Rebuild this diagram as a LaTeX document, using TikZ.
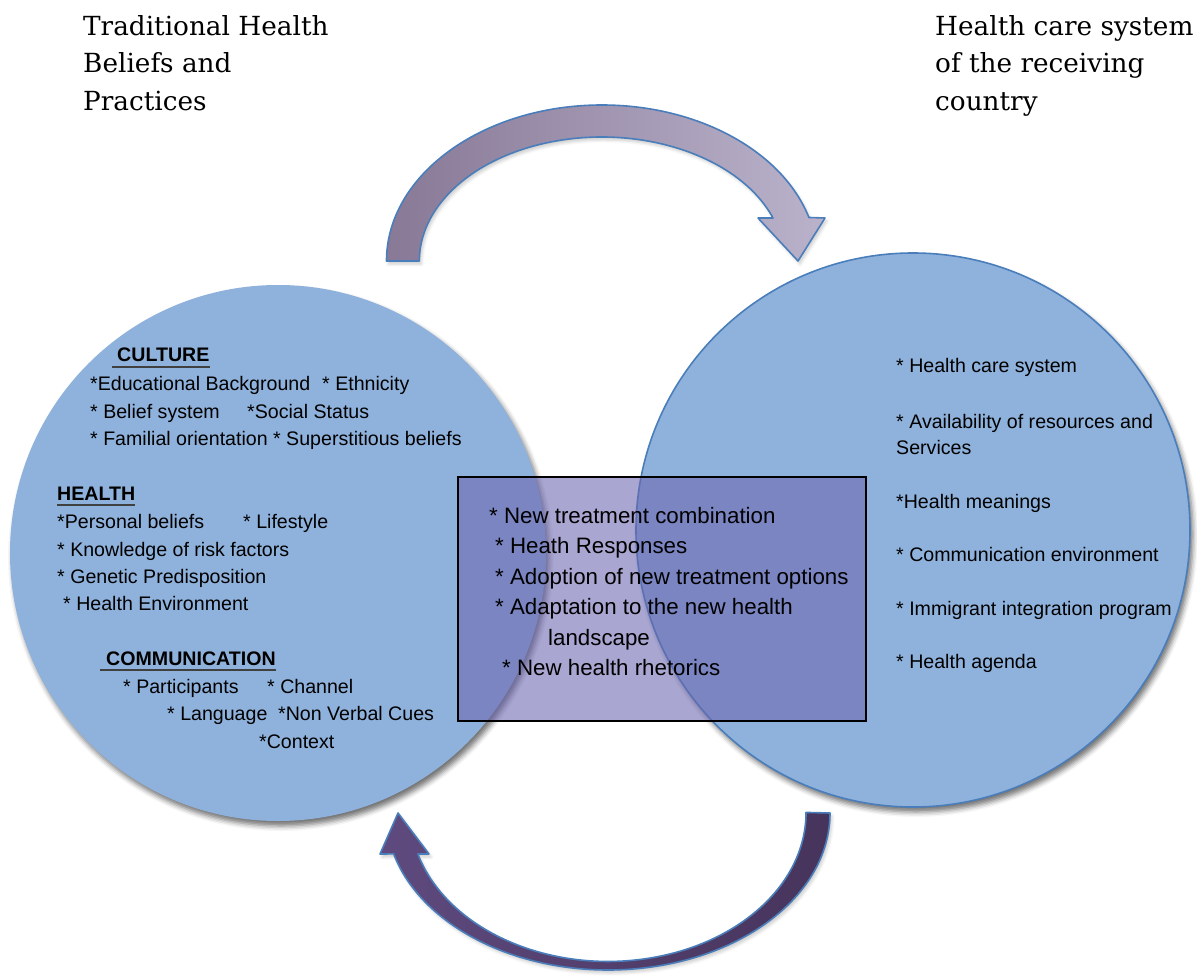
\documentclass[tikz,border=0pt]{standalone}
\usepackage{fontspec}
\setmainfont{Liberation Sans}
\newfontfamily\titlefont{DejaVu Serif}
\usetikzlibrary{shadows.blur}
\definecolor{cfill}{RGB}{143,178,220}
\definecolor{cline}{RGB}{74,126,187}
\definecolor{boxfill}{RGB}{107,102,176}
\definecolor{topL}{RGB}{136,121,150}
\definecolor{topR}{RGB}{186,178,203}
\definecolor{botL}{RGB}{94,74,126}
\definecolor{botR}{RGB}{70,52,92}
\begin{document}
\begin{tikzpicture}[x=1pt,y=-1pt,
  txt/.style={anchor=base west, inner sep=0pt, font=\fontsize{19.6}{24}\selectfont},
  boxtxt/.style={anchor=base west, inner sep=0pt, font=\fontsize{22.3}{28}\selectfont},
  head/.style={anchor=base west, inner sep=0pt, font=\fontsize{19.6}{24}\selectfont\bfseries},
  ttl/.style={anchor=base west, inner sep=0pt, font=\titlefont\fontsize{26.3}{32}\selectfont},
  uline/.style={line width=1.1pt, black!75},
  arrowband/.style={draw=cline, line width=1.6pt, line join=round},
  csh/.style={blur shadow={shadow xshift=3pt, shadow yshift=-5pt, shadow blur radius=5pt, shadow opacity=55}},
  ash/.style={blur shadow={shadow xshift=2pt, shadow yshift=-3pt, shadow blur radius=3pt, shadow opacity=20}}
]
\useasboundingbox (0,0) rectangle (1197,976);

% top curved arrow
\path[arrowband, ash, left color=topL, right color=topR]
  (386.5,261) arc[start angle=180, end angle=343.8, x radius=215.5, y radius=156]
  -- (825,218) -- (798,261) -- (758,218) -- (773,218)
  arc[start angle=339.7, end angle=180, x radius=182.5, y radius=124] -- cycle;

% bottom curved arrow
\path[arrowband, ash, left color=botL, right color=botR]
  (830,813) arc[start angle=0, end angle=164.9, x radius=222, y radius=157]
  -- (380,854) -- (398,813) -- (429,854) -- (417.9,854)
  arc[start angle=163.8, end angle=0, x radius=198, y radius=149] -- cycle;

% circles
\node (lc) [circle, csh, fill=cfill, minimum size=536pt, inner sep=0pt] at (278,553) {};
\node (rc) [circle, csh, fill=cfill, draw=cline, line width=1.6pt, minimum size=554pt, inner sep=0pt] at (913,530) {};

% central box
\node (box) [draw=black, line width=1.6pt, fill=boxfill, fill opacity=0.58, minimum width=408pt, minimum height=244pt, inner sep=0pt] at (662,599) {};

% titles
\node (t1) [ttl] at (83,36) {Traditional Health};
\node (t2) [ttl] at (83,73) {Beliefs and};
\node (t3) [ttl] at (83,111) {Practices};
\node (r1) [ttl] at (935,36) {Health care system};
\node (r2) [ttl] at (935,73) {of the receiving};
\node (r3) [ttl] at (935,111) {country};

% left circle text
\node (hcult) [head] at (117,362) {CULTURE};
\draw[uline] ([xshift=-5pt,yshift=-5pt]hcult.base west) -- ([yshift=-5pt]hcult.base east);
\node (c1a) [txt] at (90,390) {*Educational Background};
\node (c1b) [txt] at (322,390) {* Ethnicity};
\node (c2a) [txt] at (90,418) {* Belief system};
\node (c2b) [txt] at (247,418) {*Social Status};
\node (c3) [txt] at (90,445) {* Familial orientation * Superstitious beliefs};

\node (hheal) [head] at (57,500) {HEALTH};
\draw[uline] ([yshift=-5pt]hheal.base west) -- ([yshift=-5pt]hheal.base east);
\node (h1a) [txt] at (57,528) {*Personal beliefs};
\node (h1b) [txt] at (243,528) {* Lifestyle};
\node (h2) [txt] at (57,556) {* Knowledge of risk factors};
\node (h3) [txt] at (57,583) {* Genetic Predisposition};
\node (h4) [txt] at (63,610) {* Health Environment};

\node (hcomm) [head] at (106,665) {COMMUNICATION};
\draw[uline] ([xshift=-6pt,yshift=-5pt]hcomm.base west) -- ([yshift=-5pt]hcomm.base east);
\node (m1a) [txt] at (123,693) {* Participants};
\node (m1b) [txt] at (267,693) {* Channel};
\node (m2a) [txt] at (167,720) {* Language};
\node (m2b) [txt] at (278,720) {*Non Verbal Cues};
\node (m3) [txt] at (259,748) {*Context};

% right circle text
\node (s1) [txt] at (896,373) {* Health care system};
\node (s2) [txt] at (896,428) {* Availability of resources and};
\node (s2b) [txt] at (896,454) {Services};
\node (s3) [txt] at (896,508) {*Health meanings};
\node (s4) [txt] at (896,561) {* Communication environment};
\node (s5) [txt] at (896,615) {* Immigrant integration program};
\node (s6) [txt] at (896,668) {* Health agenda};

% box text
\node (b1) [boxtxt] at (489,523) {* New treatment combination};
\node (b2) [boxtxt] at (495,553) {* Heath Responses};
\node (b3) [boxtxt] at (495,584) {* Adoption of new treatment options};
\node (b4) [boxtxt] at (495,614) {* Adaptation to the new health};
\node (b4b) [boxtxt] at (548,645) {landscape};
\node (b5) [boxtxt] at (502,675) {* New health rhetorics};
\end{tikzpicture}
\end{document}
